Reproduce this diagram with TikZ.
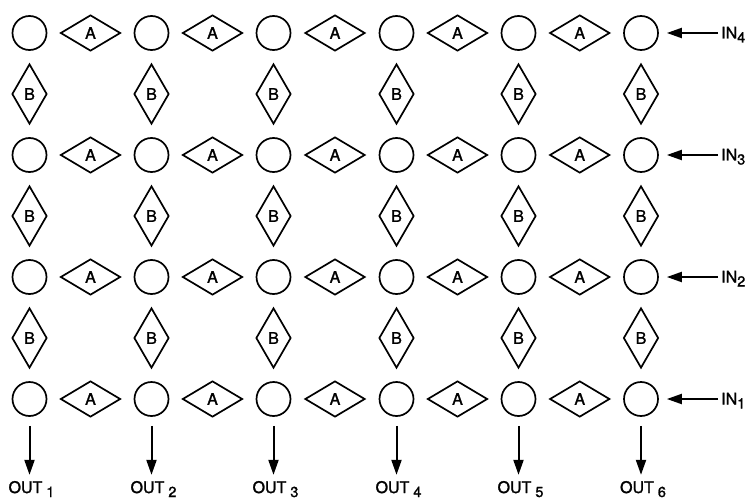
\documentclass[tikz,border=0pt]{standalone}
\usepackage{fontspec}
\setmainfont{TeX Gyre Heros}[FakeBold=1.5]
\usetikzlibrary{shapes.geometric,arrows.meta,calc}
% lowered index digit used in the port labels
\newcommand\portidx[1]{\raisebox{-4pt}{\fontsize{14.5}{14.5}\selectfont #1}}
\begin{document}
\begin{tikzpicture}[x=1pt,y=-1pt,
  cell/.style={circle,draw,line width=1.7pt,minimum size=34pt,inner sep=0pt},
  adia/.style={diamond,draw,line width=1.7pt,minimum width=60pt,minimum height=36pt,
               inner sep=0pt,font=\fontsize{16}{16}\selectfont},
  bdia/.style={diamond,draw,line width=1.7pt,minimum width=35pt,minimum height=60pt,
               inner sep=0pt,font=\fontsize{16}{16}\selectfont},
  flow/.style={line width=2pt,-{Triangle[length=15pt,width=10pt]}},
  lab/.style={font=\fontsize{16}{16}\selectfont,inner sep=0pt}]
\useasboundingbox (0,0) rectangle (749,500);
% rows of cells joined by A elements
\foreach \r/\y in {1/399,2/277,3/155,4/33} {
  \foreach \x [count=\c] in {29.5,151.5,273.5,396.5,518.5,641}
    \node[cell] (c\r\c) at (\x,\y) {};
  \foreach \c in {1,...,5} {
    \pgfmathtruncatemacro\nx{\c+1}
    \node[adia] (a\r\c) at ($(c\r\c)!0.5!(c\r\nx)$) {A};
  }
  % input on the right
  \node[lab,anchor=base west] (in\r) at (721,{\y+5.5}) {IN\portidx{\r}};
  \draw[flow,shorten <=3pt,shorten >=8pt] (in\r.west |- c\r6.east) -- (c\r6.east);
}
% B elements between rows
\foreach \r/\y in {1/338,2/216,3/94}
  \foreach \x [count=\c] in {29.5,151.5,273.5,396.5,518.5,641}
    \node[bdia] (b\r\c) at (\x,\y) {B};
% outputs below the bottom row
\foreach \x [count=\c] in {29.5,151.5,273.5,396.5,518.5,641} {
  \node[lab,anchor=base] (out\c) at (\x+2,493) {OUT\hspace{4pt}\portidx{\c}};
  \draw[flow,shorten <=9pt,shorten >=6pt] (c1\c.south) -- (c1\c.south |- out\c.north);
}
\end{tikzpicture}
\end{document}
